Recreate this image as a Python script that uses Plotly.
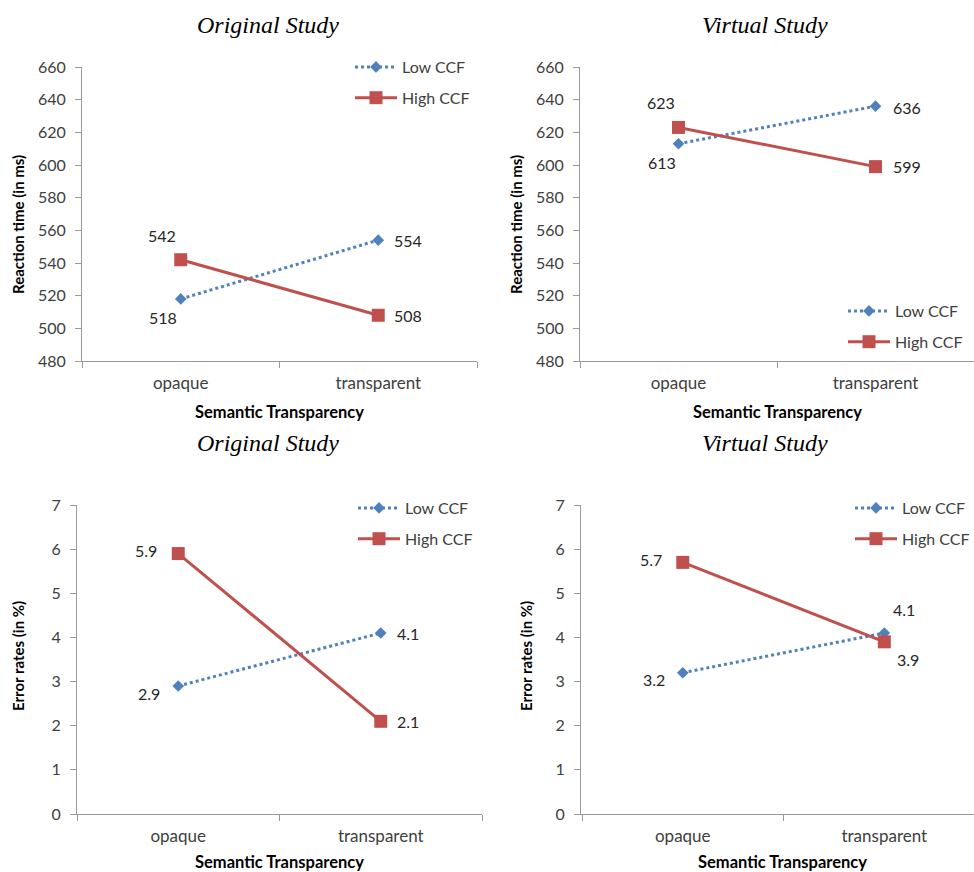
import plotly.graph_objects as go

categories = ["opaque", "transparent"]
series_names = ["Low CCF", "High CCF"]

# Reaction times (ms)
rt_original_low = [518, 554]
rt_original_high = [542, 508]
rt_virtual_low = [613, 636]
rt_virtual_high = [623, 599]

# Error rates (%)
er_original_low = [2.9, 4.1]
er_original_high = [5.9, 2.1]
er_virtual_low = [3.2, 4.1]
er_virtual_high = [5.7, 3.9]

panel_titles = ["Original Study", "Virtual Study", "Original Study", "Virtual Study"]
y_titles = ["Reaction time (in ms)", "Reaction time (in ms)", "Error rates (in %)", "Error rates (in %)"]
x_title = "Semantic Transparency"

W, H = 974, 872
BLUE = "#4F81BD"
RED = "#C0504D"
AXIS = "#9A9A9A"
TXT = "#404040"
FONT = "Lato"

def px_x(p):
    return p / W

def px_y(p):
    return 1 - p / H

panels = [
    dict(low=rt_original_low, high=rt_original_high, xd=[px_x(82), px_x(477)], yd=[px_y(361), px_y(67)],
         yr=[480, 660], dt=20, xr=[-0.5, 1.5], legend=(355, 50)),
    dict(low=rt_virtual_low, high=rt_virtual_high, xd=[px_x(580), 1.0], yd=[px_y(361), px_y(67)],
         yr=[480, 660], dt=20, xr=[-0.5, 1.5], legend=(848, 294)),
    dict(low=er_original_low, high=er_original_high, xd=[px_x(77), px_x(482)], yd=[px_y(814), px_y(505)],
         yr=[0, 7], dt=1, xr=[-0.5, 1.5], legend=(358, 491)),
    dict(low=er_virtual_low, high=er_virtual_high, xd=[px_x(581), 1.0], yd=[px_y(814), px_y(505)],
         yr=[0, 7], dt=1, xr=[-0.505, 1.445], legend=(855, 491)),
]

# label offsets in px (low opaque, low transparent, high opaque, high transparent)
label_offsets = [
    [(-18, -19), (30, 0), (-19, 24), (30, 0)],
    [(-17, -19), (31, -1), (-18, 25), (31, 0)],
    [(-29, -8), (27, 0), (-32, 3), (27, 0)],
    [(-29, -7), (20, 24), (-32, 3), (24, -18)],
]

# axis titles positions (px)
ytitle_pos = [(18, 225), (516, 225), (18, 656), (526, 656)]
xtitle_pos = [(279, 412), (777, 412), (279, 862), (782, 862)]
ptitle_pos = [(268, 25), (765, 25), (268, 443), (765, 443)]

fig = go.Figure()
annotations = []
layout = {}

for i, p in enumerate(panels):
    n = "" if i == 0 else str(i + 1)
    xa, ya = "x" + n, "y" + n
    lg = "legend" + n
    fig.add_trace(go.Scatter(
        x=categories, y=p["low"], name=series_names[0], mode="lines+markers",
        xaxis=xa, yaxis=ya, legend=lg, legendgroup="low" + n,
        line=dict(color=BLUE, width=3, dash="3px,3px"),
        marker=dict(symbol="diamond", size=9, color=BLUE)))
    fig.add_trace(go.Scatter(
        x=categories, y=p["high"], name=series_names[1], mode="lines+markers",
        xaxis=xa, yaxis=ya, legend=lg, legendgroup="high" + n,
        line=dict(color=RED, width=3),
        marker=dict(symbol="square", size=13, color=RED)))

    layout["xaxis" + n] = dict(
        domain=p["xd"], anchor=ya, type="category", range=p["xr"],
        showline=True, linecolor=AXIS, linewidth=1, ticks="outside", tickson="boundaries",
        ticklen=6, tickcolor=AXIS, showgrid=False, zeroline=False, ticklabelstandoff=7,
        tickfont=dict(family=FONT, size=17, color=TXT), fixedrange=True)
    layout["yaxis" + n] = dict(
        domain=p["yd"], anchor=xa, range=p["yr"], dtick=p["dt"], tick0=0,
        showline=True, linecolor=AXIS, linewidth=1, ticks="outside", ticklen=6,
        tickcolor=AXIS, showgrid=False, zeroline=False, ticklabelstandoff=6,
        tickfont=dict(family=FONT, size=16, color=TXT), fixedrange=True)
    layout[lg] = dict(
        x=px_x(p["legend"][0] - 5), y=px_y(p["legend"][1]), xanchor="left", yanchor="top",
        bgcolor="rgba(0,0,0,0)", font=dict(family=FONT, size=16, color=TXT),
        traceorder="grouped", tracegroupgap=7, itemwidth=42)

    vals = [(categories[0], p["low"][0]), (categories[1], p["low"][1]),
            (categories[0], p["high"][0]), (categories[1], p["high"][1])]
    for (cx, cy), (dx, dy) in zip(vals, label_offsets[i]):
        annotations.append(dict(
            x=cx, y=cy, xref=xa, yref=ya, text=str(cy), showarrow=False,
            xshift=dx, yshift=dy, font=dict(family=FONT, size=16, color="#262626")))

    tx, ty = ytitle_pos[i]
    annotations.append(dict(x=px_x(tx), y=px_y(ty), xref="paper", yref="paper", text="<b>%s</b>" % y_titles[i],
                            textangle=-90, showarrow=False, xanchor="center", yanchor="middle",
                            font=dict(family=FONT, size=15, color="#000000")))
    tx, ty = xtitle_pos[i]
    annotations.append(dict(x=px_x(tx), y=px_y(ty), xref="paper", yref="paper", text="<b>%s</b>" % x_title,
                            showarrow=False, xanchor="center", yanchor="middle",
                            font=dict(family=FONT, size=16.5, color="#000000")))
    tx, ty = ptitle_pos[i]
    annotations.append(dict(x=px_x(tx), y=px_y(ty), xref="paper", yref="paper", text="<i>%s</i>" % panel_titles[i],
                            showarrow=False, xanchor="center", yanchor="middle",
                            font=dict(family="Liberation Serif", size=24, color="#000000")))

fig.update_layout(
    width=W, height=H, margin=dict(l=0, r=0, t=0, b=0, autoexpand=False),
    paper_bgcolor="white", plot_bgcolor="white",
    showlegend=True, annotations=annotations, **layout)

fig.write_html("out.html")
